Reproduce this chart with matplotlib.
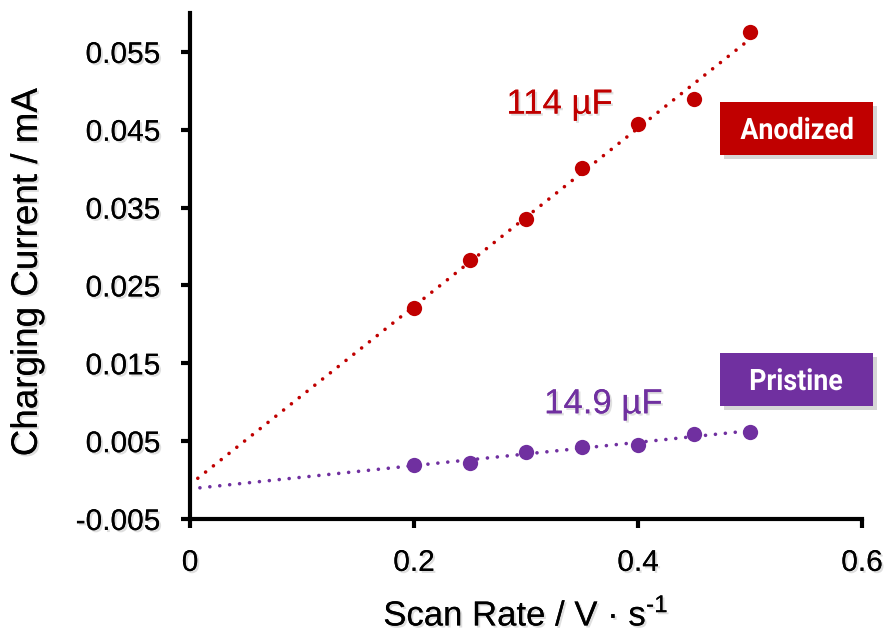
import numpy as np
import matplotlib
matplotlib.use("Agg")
import matplotlib.pyplot as plt
import matplotlib.patheffects as pe
from matplotlib.patches import Rectangle, PathPatch
from matplotlib.textpath import TextPath
from matplotlib.font_manager import FontProperties
from matplotlib.transforms import Affine2D
from matplotlib.ticker import FixedLocator, FuncFormatter

# Scan rates (V/s) and measured charging currents (mA)
scan_rate = [0.20, 0.25, 0.30, 0.35, 0.40, 0.45, 0.50]
anodized_current = [0.0221, 0.0283, 0.0335, 0.0401, 0.0458, 0.0490, 0.0576]
pristine_current = [0.0020, 0.0022, 0.0036, 0.0043, 0.0045, 0.0059, 0.0062]

y_ticks = [-0.005, 0.005, 0.015, 0.025, 0.035, 0.045, 0.055]
x_ticks = [0, 0.2, 0.4, 0.6]

RED = "#C00000"
PURPLE = "#7030A0"

plt.rcParams["font.family"] = ["Liberation Sans", "DejaVu Sans"]
plt.rcParams["mathtext.fontset"] = "custom"
plt.rcParams["mathtext.rm"] = "Liberation Sans"
plt.rcParams["axes.unicode_minus"] = False

W, H = 893, 639
fig = plt.figure(figsize=(W / 100, H / 100), dpi=100)
ax = fig.add_axes([190 / W, 1 - 519 / H, 672 / W, 506 / H])

shadow = [pe.withSimplePatchShadow(offset=(1.5, -1.5), shadow_rgbFace="0.5", alpha=0.25), pe.Normal()]


def draw_series(x, y, color):
    x = np.asarray(x)
    y = np.asarray(y)
    slope, intercept = np.polyfit(x, y, 1)
    xf = np.array([0.0, x.max()])
    ax.plot(xf, slope * xf + intercept, color=color, lw=2.6,
            linestyle=(0, (0.01, 2.75)), dash_capstyle="round", zorder=2)
    ax.plot(x, y, "o", color=color, ms=11, mec="none", zorder=3)


draw_series(scan_rate, anodized_current, RED)
draw_series(scan_rate, pristine_current, PURPLE)

ax.set_xlim(0, 0.6)
ax.set_ylim(-0.005, 0.06)
ax.xaxis.set_major_locator(FixedLocator(x_ticks))
ax.yaxis.set_major_locator(FixedLocator(y_ticks))
ax.xaxis.set_major_formatter(FuncFormatter(lambda v, p: "0" if v == 0 else f"{v:g}"))
ax.yaxis.set_major_formatter(FuncFormatter(lambda v, p: f"{v:.3f}"))

for s in ("top", "right"):
    ax.spines[s].set_visible(False)
for s in ("left", "bottom"):
    ax.spines[s].set_linewidth(3)
ax.tick_params(direction="out", length=6.5, width=3, labelsize=21.5, pad=15)
for lab in ax.get_xticklabels() + ax.get_yticklabels():
    lab.set_path_effects(shadow)

ax.set_ylabel("Charging Current / mA", fontsize=26.5, path_effects=shadow)
ax.set_xlabel("Scan Rate / V · s$^{\u2010\\mathregular{1}}$", fontsize=25, path_effects=shadow)
ax.yaxis.set_label_coords(-0.216, 0.487)
ax.xaxis.set_label_coords(0.5, -0.155)

ax.text(0.330, 0.0483, "114 µF", color=RED, fontsize=25, ha="center", va="center",
        path_effects=shadow)
ax.text(0.369, 0.0098, "14.9 µF", color=PURPLE, fontsize=25, ha="center", va="center",
        path_effects=shadow)

# Sample tags on the right side, with a horizontally condensed bold label
tag_font = FontProperties(family=["Roboto", "DejaVu Sans"], weight="bold")
cap_ref = TextPath((0, 0), "H", size=100, prop=tag_font).get_extents()
cap_ratio = cap_ref.height / 100.0
label_size = 21.0 / cap_ratio
wide_ref = TextPath((0, 0), "Anodized", size=label_size, prop=tag_font).get_extents()
squeeze = 112.0 / wide_ref.width


def tag(x0, y0, w, h, text, color):
    fig.patches.append(Rectangle(((x0 + 4) / W, 1 - (y0 + h + 4) / H), w / W, h / H,
                                 transform=fig.transFigure, facecolor="0.55", alpha=0.35,
                                 edgecolor="none", zorder=5))
    fig.patches.append(Rectangle((x0 / W, 1 - (y0 + h) / H), w / W, h / H,
                                 transform=fig.transFigure, facecolor=color,
                                 edgecolor="none", zorder=6))
    tp = TextPath((0, 0), text, size=label_size, prop=tag_font)
    ext = tp.get_extents()
    cx = x0 + w / 2
    cy = H - (y0 + h / 2)
    tr = (Affine2D().translate(-(ext.x0 + ext.width / 2), -21.0 / 2)
          .scale(squeeze, 1.0).translate(cx, cy))
    fig.patches.append(PathPatch(tr.transform_path(tp), facecolor="white", edgecolor="none",
                                 transform=None, zorder=7))


tag(720, 102, 153, 53, "Anodized", RED)
tag(720, 353, 153, 53, "Pristine", PURPLE)

fig.savefig("out.png", dpi=100)
